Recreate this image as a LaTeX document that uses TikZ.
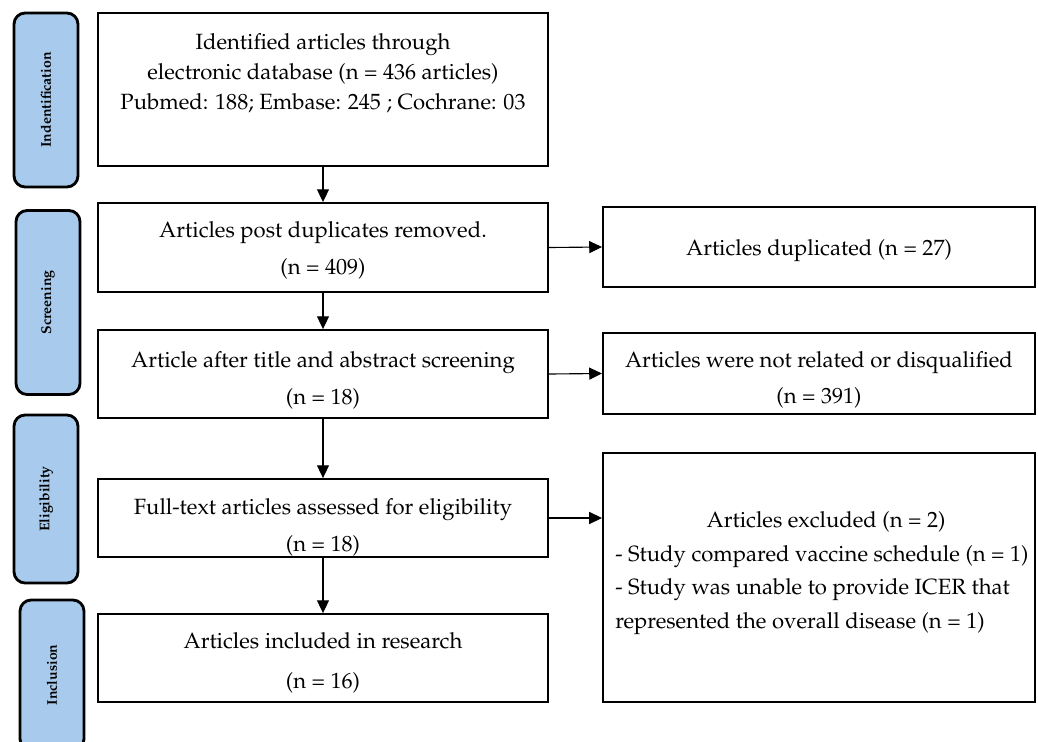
\documentclass[tikz,border=0pt]{standalone}
\usepackage[T1]{fontenc}
\usepackage{mathpazo}
\usepackage{xcolor}
\usetikzlibrary{arrows.meta}

\definecolor{tabblue}{RGB}{168,202,236}

\begin{document}
\begin{tikzpicture}[x=0.025cm, y=-0.025cm,
	stagetab/.style={draw, line width=2pt, rounded corners=0.28cm, fill=tabblue, minimum height=1.6cm, inner sep=0pt, rotate=90, font=\fontsize{10}{12}\selectfont\bfseries},
	mainbox/.style={draw, line width=1.3pt, minimum width=11.25cm, inner sep=0pt},
	sidebox/.style={draw, line width=1.3pt, minimum width=10.8cm, inner sep=0pt},
	boxtext/.style={align=center, inner sep=0pt, font=\fontsize{15.7}{21.3}\selectfont},
	flow/.style={-{Triangle[length=0.32cm, width=0.3cm]}, line width=0.8pt}]
	\clip (0,0) rectangle (1038,742);

	% stage tabs on the left
	\node [stagetab, minimum width=4.35cm] (ident) at (46,100) {Indentification};
	\node [stagetab, minimum width=4.6cm] (screen) at (48,302.5) {Screening};
	\node [stagetab, minimum width=4.2cm] (elig) at (46,499) {Eligibility};
	\node [stagetab, minimum width=3.75cm] (incl) at (52,675) {Inclusion};

	% main column
	\node [mainbox, minimum height=3.825cm] (found) at (323,89.5) {};
	\node [boxtext] (foundt) at (323,73.5) {Identified articles through\\electronic database (n = 436 articles)\\Pubmed: 188; Embase: 245 ; Cochrane: 03};
	\node [mainbox, minimum height=2.225cm] (dedup) at (323,247.5) {};
	\node [boxtext] (dedupt) at (323,250.5) {Articles post duplicates removed.\\[5pt](n = 409)};
	\node [mainbox, minimum height=2.2cm] (title) at (323,374) {};
	\node [boxtext] (titlet) at (323,380.5) {Article after title and abstract screening\\[5pt](n = 18)};
	\begin{scope}
		\clip (98,479) rectangle (548,557);
		\node [boxtext] (fullt) at (323,527.5) {Full-text articles assessed for eligibility\\[5pt](n = 18)};
	\end{scope}
	\node [mainbox, minimum height=1.95cm] (full) at (323,518) {};
	\node [mainbox, minimum height=2.2cm] (incd) at (323,658) {};
	\node [boxtext] (incdt) at (323,662.5) {Articles included in research\\[7pt](n = 16)};

	% right column
	\node [sidebox, minimum height=2cm] (dup) at (819,247) {};
	\node [boxtext] (dupt) at (819,251) {Articles duplicated (n = 27)};
	\node [sidebox, minimum height=2.025cm] (unrel) at (819,373.5) {};
	\node [boxtext] (unrelt) at (819,380) {Articles were not related or disqualified\\[4pt](n = 391)};
	\node [sidebox, minimum height=6.225cm] (excl) at (819,577.5) {};
	\node [boxtext, font=\fontsize{15.7}{24}\selectfont, align=left, anchor=north west] (exclt) at (615,511) {\hspace*{65pt}Articles excluded (n = 2)\\- Study compared vaccine schedule (n = 1)\\- Study was unable to provide ICER that\\represented the overall disease (n = 1)};

	% arrows
	\draw [flow] (found) -- (dedup);
	\draw [flow] (dedup) -- (title);
	\draw [flow] (title) -- (full);
	\draw [flow] (full) -- (incd);
	\draw [flow] (dedup.east) -- (dup.west);
	\draw [flow] (title.east) -- (unrel.west);
	\draw [flow] (full.east) -- (full.east -| excl.west);
\end{tikzpicture}
\end{document}
